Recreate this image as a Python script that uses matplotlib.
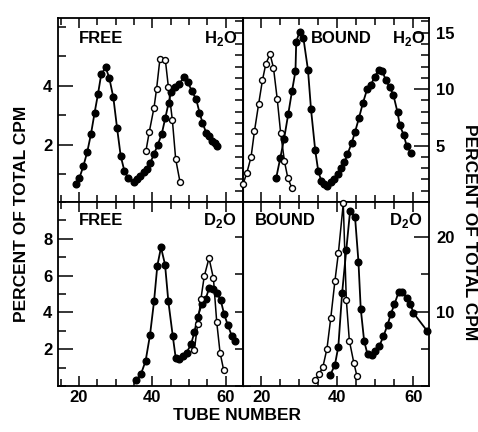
import matplotlib
matplotlib.use("Agg")
import matplotlib.pyplot as plt
from matplotlib.ticker import MultipleLocator, FixedLocator

plt.rcParams["font.family"] = ["Liberation Sans", "DejaVu Sans"]
plt.rcParams["font.weight"] = "bold"

# ---------------------------------------------------------------------------
# Data (tube number, percent of total CPM)
# ---------------------------------------------------------------------------

# FREE, H2O (left scale)
free_h2o_filled_x = [19.2, 20.1, 21.2, 22.3, 23.3, 24.3, 25.2, 26.1, 27.3, 28.3,
                     29.4, 30.4, 31.4, 32.4, 33.5, 35.0, 35.9, 36.8, 37.8, 38.5,
                     39.4, 40.5, 41.5, 42.6, 43.6, 44.5, 45.1, 46.2, 47.3, 48.6,
                     49.7, 50.8, 52.0, 52.9, 53.7, 54.7, 55.4, 56.3, 57.0, 57.8]
free_h2o_filled_y = [0.66, 0.85, 1.26, 1.76, 2.36, 3.09, 3.71, 4.39, 4.62, 4.26,
                     3.60, 2.58, 1.62, 1.11, 0.85, 0.74, 0.83, 0.94, 1.08, 1.17,
                     1.36, 1.68, 1.99, 2.36, 2.92, 3.43, 3.77, 3.97, 4.05, 4.28,
                     4.13, 3.82, 3.54, 3.09, 2.75, 2.41, 2.28, 2.13, 2.05, 1.96]
free_h2o_open_x = [38.3, 39.2, 40.5, 41.2, 42.1, 43.6, 44.4, 45.5, 46.4, 47.6]
free_h2o_open_y = [1.79, 2.43, 3.26, 3.90, 4.90, 4.86, 3.97, 2.83, 1.51, 0.72]

# BOUND, H2O (right scale)
bound_h2o_open_x = [15.2, 16.2, 17.3, 18.2, 19.3, 20.3, 21.2, 22.3, 23.2, 24.2,
                    25.1, 26.1, 27.0, 28.1]
bound_h2o_open_y = [1.6, 2.6, 4.0, 6.3, 8.7, 10.8, 12.25, 13.1, 11.9, 9.1,
                    6.1, 3.6, 2.1, 1.2]
bound_h2o_filled_x = [23.9, 25.0, 26.0, 27.1, 28.1, 29.0, 29.2, 30.1, 31.1, 32.3,
                      33.1, 34.2, 35.0, 35.8, 36.6, 37.4, 38.3, 39.2, 40.1, 41.0,
                      41.9, 42.7, 43.8, 44.7, 45.7, 46.8, 47.9, 48.9, 49.9, 50.9,
                      51.9, 52.8, 53.8, 54.8, 55.9, 56.5, 57.5, 58.3, 59.4]
bound_h2o_filled_y = [2.1, 3.9, 5.6, 7.8, 9.85, 11.6, 14.2, 15.1, 14.5, 11.7,
                      8.2, 4.6, 2.75, 1.87, 1.58, 1.46, 1.73, 2.0, 2.46, 2.98,
                      3.5, 4.24, 5.2, 6.2, 7.4, 8.8, 10.0, 10.4, 11.1, 11.7,
                      11.6, 10.8, 10.2, 9.5, 7.95, 6.8, 5.96, 5.0, 4.36]

# FREE, D2O (left scale)
free_d2o_filled_x = [35.6, 36.9, 38.2, 39.4, 40.5, 41.4, 42.4, 43.5, 44.4, 45.6,
                     46.4, 47.3, 48.5, 49.4, 50.6, 51.5, 52.4, 53.6, 54.6, 55.5,
                     56.5, 57.6, 58.7, 59.6, 60.6, 61.7, 62.6]
free_d2o_filled_y = [0.31, 0.63, 1.36, 2.77, 4.6, 6.54, 7.53, 6.6, 4.6, 2.73,
                     1.54, 1.45, 1.63, 1.82, 2.27, 2.92, 3.77, 4.47, 4.75, 5.3,
                     5.26, 5.08, 4.65, 3.92, 3.32, 2.73, 2.46]
free_d2o_open_x = [51.5, 52.4, 53.3, 54.2, 55.5, 56.7, 57.6, 58.5, 59.5]
free_d2o_open_y = [1.96, 3.37, 4.75, 5.97, 6.95, 5.85, 3.47, 1.82, 0.86]

# BOUND, D2O (right scale)
bound_d2o_open_x = [34.2, 35.2, 36.2, 37.3, 38.3, 39.4, 40.3, 41.6, 42.4, 43.2,
                    44.4, 45.2]
bound_d2o_open_y = [0.8, 1.58, 2.5, 5.0, 9.1, 14.1, 17.8, 24.5, 11.6, 6.1,
                    3.07, 1.35]
bound_d2o_filled_x = [38.2, 39.4, 40.3, 41.3, 42.4, 43.4, 44.7, 45.6, 46.2, 47.1,
                      48.0, 49.1, 49.9, 51.1, 52.2, 53.3, 54.1, 55.1, 56.2, 57.2,
                      58.3, 59.3, 60.1, 63.7]
bound_d2o_filled_y = [1.5, 2.84, 5.3, 12.5, 18.3, 23.5, 22.7, 16.7, 10.4, 6.05,
                      4.24, 4.15, 4.7, 5.36, 6.7, 8.24, 9.6, 11.0, 12.6, 12.6,
                      11.85, 11.0, 9.8, 7.4]

x_major = [20, 40, 60]


# ---------------------------------------------------------------------------
# Plotting helpers
# ---------------------------------------------------------------------------

def draw_series(ax, fx, fy, ox, oy):
    ax.plot(fx, fy, color="black", lw=1.3, marker="o", ms=4.8,
            mfc="black", mec="black", zorder=3, clip_on=False)
    ax.plot(ox, oy, color="black", lw=1.1, marker="o", ms=4.3,
            mfc="white", mec="black", mew=1.0, zorder=4, clip_on=False)


def style_axis(ax, side, ylim, y_major, y_minor, show_x):
    ax.set_ylim(*ylim)
    ax.xaxis.set_major_locator(FixedLocator(x_major))
    ax.xaxis.set_minor_locator(MultipleLocator(5))
    ax.tick_params(axis="x", which="both", direction="in", top=True,
                   bottom=True, labelbottom=show_x, labelsize=12, pad=3,
                   width=1.1)
    ax.tick_params(axis="x", which="major", length=7)
    ax.tick_params(axis="x", which="minor", length=5)

    ax.yaxis.set_major_locator(FixedLocator(y_major))
    ax.yaxis.set_minor_locator(MultipleLocator(y_minor))
    if side == "left":
        ax.tick_params(axis="y", which="both", direction="in", left=True,
                       right=False, labelleft=True, labelright=False,
                       labelsize=12, pad=4, width=1.1)
    else:
        ax.tick_params(axis="y", which="both", direction="in", left=False,
                       right=True, labelleft=False, labelright=True,
                       labelsize=12, pad=5, width=1.1)
    ax.tick_params(axis="y", which="major", length=11)
    ax.tick_params(axis="y", which="minor", length=6)

    # ticks on the shared middle spine point into the neighbouring panel
    other = "right" if side == "left" else "left"
    sec = ax.secondary_yaxis(other)
    sec.yaxis.set_major_locator(FixedLocator(y_major))
    sec.yaxis.set_minor_locator(MultipleLocator(y_minor))
    sec.tick_params(axis="y", which="both", direction="out", width=1.1,
                    labelleft=False, labelright=False)
    sec.tick_params(axis="y", which="major", length=6)
    sec.tick_params(axis="y", which="minor", length=6)

    for sp in ax.spines.values():
        sp.set_linewidth(1.3)


def panel_text(ax, left, right, y):
    ax.text(left[0], y, left[1], transform=ax.transAxes, ha="left",
            va="center", fontsize=12, fontweight="bold")
    ax.text(right[0], y, right[1], transform=ax.transAxes, ha="right",
            va="center", fontsize=12, fontweight="bold")


# ---------------------------------------------------------------------------
# Figure
# ---------------------------------------------------------------------------

fig, axes = plt.subplots(2, 2, figsize=(4.78, 4.32), dpi=100)
fig.subplots_adjust(left=0.1213, right=0.8975, top=0.9583, bottom=0.1065,
                    wspace=0, hspace=0)
(ax_fh, ax_bh), (ax_fd, ax_bd) = axes

for ax in (ax_fh, ax_fd):
    ax.set_xlim(14.3, 64.9)
for ax in (ax_bh, ax_bd):
    ax.set_xlim(15.3, 64.2)

draw_series(ax_fh, free_h2o_filled_x, free_h2o_filled_y,
            free_h2o_open_x, free_h2o_open_y)
draw_series(ax_bh, bound_h2o_filled_x, bound_h2o_filled_y,
            bound_h2o_open_x, bound_h2o_open_y)
draw_series(ax_fd, free_d2o_filled_x, free_d2o_filled_y,
            free_d2o_open_x, free_d2o_open_y)
draw_series(ax_bd, bound_d2o_filled_x, bound_d2o_filled_y,
            bound_d2o_open_x, bound_d2o_open_y)

style_axis(ax_fh, "left", (0.05, 6.3), [2, 4], 1, show_x=False)
style_axis(ax_bh, "right", (0, 16.3), [5, 10, 15], 1, show_x=False)
style_axis(ax_fd, "left", (0, 10), [2, 4, 6, 8], 1, show_x=True)
style_axis(ax_bd, "right", (0, 24.7), [10, 20], 5, show_x=True)

panel_text(ax_fh, (0.115, "FREE"), (0.965, r"H$_\mathregular{2}$O"), 0.886)
panel_text(ax_bh, (0.365, "BOUND"), (0.98, r"H$_\mathregular{2}$O"), 0.886)
panel_text(ax_fd, (0.115, "FREE"), (0.96, r"D$_\mathregular{2}$O"), 0.902)
panel_text(ax_bd, (0.06, "BOUND"), (0.965, r"D$_\mathregular{2}$O"), 0.902)

fig.text(0.046, 0.505, "PERCENT OF TOTAL CPM", rotation=90, ha="center",
         va="center", fontsize=12.5, fontweight="bold")
fig.text(0.983, 0.463, "PERCENT OF TOTAL CPM", rotation=270, ha="center",
         va="center", fontsize=12.5, fontweight="bold")
fig.text(0.496, 0.039, "TUBE NUMBER", ha="center", va="center",
         fontsize=12.5, fontweight="bold")

fig.savefig("out.png", dpi=100)
